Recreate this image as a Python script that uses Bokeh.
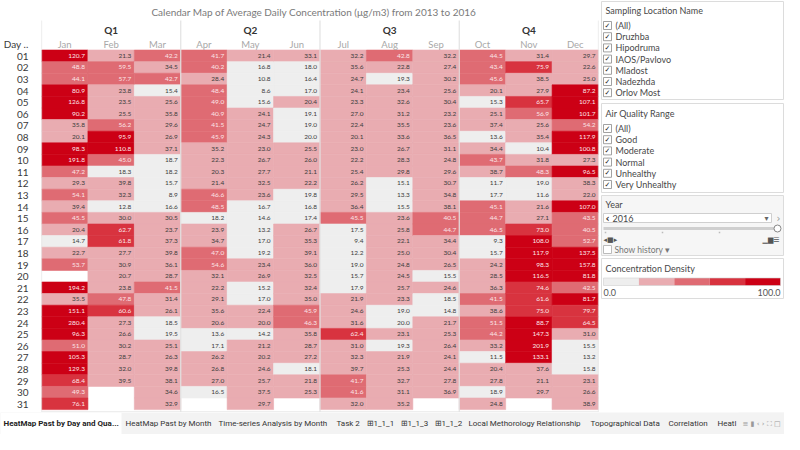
import pandas as pd
from bokeh.plotting import figure
from bokeh.models import ColumnDataSource, Range1d, FixedTicker
from bokeh.layouts import row, column
from bokeh.transform import dodge
from bokeh.embed import file_html
from bokeh.resources import INLINE
from bokeh.core.properties import value

FONT = "Lato"

# ---------------- data ----------------
title_text = "Calendar Map of Average Daily Concentration (\u03bcg/m3)  from 2013 to 2016"
quarters = ["Q1", "Q2", "Q3", "Q4"]
months = ["Jan", "Feb", "Mar", "Apr", "May", "Jun", "Jul", "Aug", "Sep", "Oct", "Nov", "Dec"]
days = list(range(1, 32))

jan = [120.7, 48.8, 44.1, 80.9, 126.8, 90.2, 35.8, 20.1, 98.3, 191.8, 47.2, 29.3, 54.1, 39.4, 45.5, 20.4,
       14.7, 22.7, 53.7, None, 194.2, 35.5, 151.1, 280.4, 96.3, 51.0, 105.3, 129.3, 68.4, 49.3, 76.1]
feb = [21.3, 59.5, 57.7, 23.8, 23.5, 25.5, 56.2, 95.9, 110.8, 45.0, 18.3, 39.8, 32.3, 12.8, 30.0, 62.7,
       61.8, 27.7, 30.9, 20.7, 23.8, 47.8, 60.6, 27.3, 26.6, 30.2, 28.7, 32.0, 39.5, None, None]
mar = [42.2, 34.5, 42.7, 15.4, 25.6, 35.8, 29.6, 26.9, 37.1, 18.7, 18.2, 15.7, 8.9, 16.6, 30.5, 23.7,
       37.3, 39.8, 36.1, 28.7, 41.5, 31.4, 26.1, 18.5, 19.5, 25.1, 26.3, 39.8, 38.1, 34.6, 32.9]
apr = [41.7, 40.2, 28.4, 48.4, 49.0, 40.9, 41.5, 45.9, 35.2, 22.3, 20.3, 21.4, 46.6, 48.5, 18.2, 23.9,
       34.7, 47.0, 54.6, 32.1, 22.2, 29.1, 35.6, 20.6, 13.6, 17.1, 26.2, 26.8, 27.0, 16.5, None]
may = [21.4, 16.8, 10.8, 8.6, 15.6, 24.1, 24.7, 24.3, 23.0, 26.7, 27.7, 32.5, 23.6, 16.7, 14.6, 13.2,
       17.0, 19.2, 23.4, 26.9, 15.2, 17.0, 22.4, 20.04, 14.2, 21.2, 20.2, 24.6, 25.7, 37.5, 29.7]
jun = [33.1, 18.0, 16.4, 17.0, 20.4, 19.1, 19.0, 19.96, 25.5, 26.0, 21.1, 22.2, 19.8, 16.8, 17.4, 26.7,
       35.3, 39.1, 36.0, 32.5, 32.4, 35.0, 45.9, 46.3, 35.8, 28.7, 27.2, 18.1, 21.8, 25.3, None]
jul = [32.2, 35.6, 24.7, 24.1, 23.3, 27.0, 22.4, 20.1, 23.0, 22.2, 25.4, 26.2, 29.5, 36.4, 45.5, 17.5,
       9.4, 12.2, 19.0, 15.7, 17.9, 21.9, 24.6, 31.6, 62.4, 31.0, 32.3, 39.7, 41.7, 41.6, 32.0]
aug = [42.8, 22.8, 19.3, 23.4, 32.6, 31.2, 35.5, 33.6, 26.7, 28.3, 29.8, 15.1, 13.3, 15.5, 23.6, 25.8,
       22.1, 25.0, 24.8, 24.5, 25.7, 23.3, 19.0, 19.96, 23.1, 19.3, 21.9, 25.3, 32.7, 31.1, 35.2]
sep = [32.2, 27.4, 30.2, 25.6, 30.4, 23.2, 23.6, 36.5, 31.1, 24.8, 29.6, 30.7, 34.8, 38.1, 40.5, 44.7,
       34.4, 30.4, 26.5, 15.5, 24.6, 18.5, 14.8, 21.7, 25.3, 26.4, 24.1, 24.4, 27.8, 36.9, None]
oct_ = [44.5, 43.4, 45.6, 20.1, 15.3, 25.1, 37.4, 13.6, 34.4, 43.7, 38.7, 11.7, 17.7, 45.1, 44.7, 46.5,
        9.3, 15.7, 24.2, 28.5, 36.3, 41.5, 38.6, 51.5, 44.2, 33.2, 11.5, 20.4, 27.8, 18.9, 24.8]
nov = [31.4, 75.9, 38.5, 27.9, 65.7, 56.9, 25.6, 35.4, 10.4, 31.8, 48.3, 19.0, 11.6, 21.6, 27.1, 73.0,
       108.0, 117.9, 98.3, 116.5, 74.6, 61.6, 75.0, 88.7, 147.3, 201.9, 133.1, 37.6, 21.1, 29.7, None]
dec = [29.7, 22.6, 25.0, 87.2, 107.1, 101.7, 54.2, 117.9, 100.8, 27.3, 96.5, 38.3, 22.0, 107.0, 43.5, 40.5,
       52.7, 137.5, 157.8, 81.8, 42.5, 81.7, 79.7, 64.5, 31.0, 15.5, 13.2, 15.8, 23.1, 26.6, 38.9]
month_values = [jan, feb, mar, apr, may, jun, jul, aug, sep, oct_, nov, dec]

bin_edges = [0, 20, 40, 60, 80]
bin_colors = ["#eeeeee", "#e9acb1", "#df6b73", "#d8333f", "#cc0015"]
text_colors = ["#3c3c3c", "#3c3c3c", "#fbe6e8", "#fbe6e8", "#fbe6e8"]
legend_title = "Concentration Density"
legend_min, legend_max = "0.0", "100.0"

location_title = "Sampling Location Name"
locations = ["(All)", "Druzhba", "Hipodruma", "IAOS/Pavlovo", "Mladost", "Nadezhda", "Orlov Most"]
aq_title = "Air Quality Range"
aq_ranges = ["(All)", "Good", "Moderate", "Normal", "Unhealthy", "Very Unhealthy"]
year_title = "Year"
year_value = "2016"

tabs = ["HeatMap Past by Day and Qua...", "HeatMap Past by Month", "Time-series Analysis by Month",
        "Task 2", "\u229e1_1_1", "\u229e1_1_3", "\u229e1_1_2", "Local Methorology Relationship",
        "Topographical Data", "Correlation", "Heatl"]
tab_x = [3, 125, 218, 336, 366, 400, 434, 468, 590, 668, 717]


def bin_index(v):
    idx = 0
    for i, e in enumerate(bin_edges):
        if v >= e:
            idx = i
    return idx


records = []
for mi, (m, vals) in enumerate(zip(months, month_values)):
    for d, v in zip(days, vals):
        if v is None:
            continue
        b = bin_index(v)
        records.append(dict(month=m, mx=mi + 1, day=d, val=v, label=f"{v:.1f}",
                            color=bin_colors[b], tcolor=text_colors[b]))
df = pd.DataFrame(records)
src = ColumnDataSource(df)

# ---------------- heatmap ----------------
p = figure(width=600, height=412, x_range=Range1d(0.5, 12.5), y_range=Range1d(31.75, -3.77),
           output_backend="svg", toolbar_location=None, x_axis_location=None,
           min_border_left=34, min_border_right=2, min_border_top=0, min_border_bottom=0)
p.grid.grid_line_color = None
p.outline_line_color = None
p.background_fill_color = "white"
p.border_fill_color = "white"

p.rect(x="mx", y="day", width=1, height=1, source=src, fill_color="color",
       line_color="color", line_width=0.6)
p.text(x=dodge("mx", 0.5), y="day", text="label", source=src, text_align="right",
       text_baseline="middle", x_offset=-3, text_font=value(FONT), text_font_size="6.5px",
       text_color="tcolor")

# quarter separators
qb = [0.5 + 3 * i for i in range(len(quarters) + 1)]
p.segment(x0=qb, x1=qb, y0=[-2.05] * len(qb), y1=[31.75] * len(qb), line_color="#e2e2e2", line_width=1.2)
p.segment(x0=[0.5], x1=[12.5], y0=[31.7], y1=[31.7], line_color="#e2e2e2", line_width=1)

# headers
p.text(x=[6.4], y=[-2.75], text=[title_text], text_align="center", text_baseline="middle",
       text_font=value(FONT), text_font_size="10px", text_color="#7a7a7a")
p.text(x=[2 + 3 * i for i in range(len(quarters))], y=[-1.22] * len(quarters), text=quarters,
       text_align="center", text_baseline="middle", text_font=value(FONT), text_font_size="10px",
       text_font_style="bold", text_color="#333333")
p.text(x=list(range(1, 13)), y=[0] * 12, text=months, text_align="center", text_baseline="middle",
       text_font=value(FONT), text_font_size="9.5px", text_color="#a8a8a8")

p.yaxis.ticker = FixedTicker(ticks=[0] + days)
overrides = {0: "Day .."}
overrides.update({d: f"{d:02d}" for d in days})
p.yaxis.major_label_overrides = overrides
p.yaxis.axis_line_color = None
p.yaxis.major_tick_line_color = None
p.yaxis.minor_tick_line_color = None
p.yaxis.major_label_text_font = FONT
p.yaxis.major_label_text_font_size = "10px"
p.yaxis.major_label_text_color = "#3a3a3a"
p.yaxis.major_label_standoff = 7

# ---------------- side panel ----------------
s = figure(width=184, height=412, x_range=Range1d(0, 184), y_range=Range1d(412, 0),
           output_backend="svg", toolbar_location=None, x_axis_location=None, y_axis_location=None,
           min_border=0)
s.grid.grid_line_color = None
s.outline_line_color = None
s.border_fill_color = "white"
s.background_fill_color = "white"

box_col = "#dcdcdc"
txt_col = "#484848"


def box(top, bottom, fill="white"):
    s.quad(left=[1], right=[183], top=[top], bottom=[bottom], fill_color=fill, line_color=box_col, line_width=1)


def checklist(items, y0, step):
    ys = [y0 + i * step for i in range(len(items))]
    s.rect(x=[7] * len(items), y=ys, width=8, height=8, fill_color="white", line_color="#8a8a8a", line_width=0.8)
    s.text(x=[7] * len(items), y=ys, text=["\u2713"] * len(items), text_align="center", text_baseline="middle",
           text_font=value("DejaVu Sans"), text_font_size="7px", text_color="#222222")
    s.text(x=[15] * len(items), y=ys, text=items, text_baseline="middle", text_font=value(FONT),
           text_font_size="9px", text_color=txt_col)


def panel_title(t, y):
    s.text(x=[5], y=[y], text=[t], text_baseline="middle", text_font=value(FONT),
           text_font_size="9px", text_color=txt_col)


box(1, 99)
panel_title(location_title, 10)
checklist(locations, 25, 11.2)

box(103, 192)
panel_title(aq_title, 113)
checklist(aq_ranges, 128, 11.2)

box(195, 255, fill="#f6f6f6")
panel_title(year_title, 204)
s.quad(left=[3], right=[171], top=[213], bottom=[222], fill_color="white", line_color="#cfcfcf")
s.text(x=[5], y=[217.5], text=["\u2039"], text_baseline="middle", text_font=value("DejaVu Sans"),
       text_font_size="10px", text_font_style="bold", text_color="#333333")
s.text(x=[12], y=[217.5], text=[year_value], text_baseline="middle", text_font=value(FONT),
       text_font_size="9px", text_color=txt_col)
s.text(x=[166], y=[217.5], text=["\u25be"], text_align="center", text_baseline="middle",
       text_font=value("DejaVu Sans"), text_font_size="8px", text_color="#666666")
s.text(x=[178], y=[217.5], text=["\u203a"], text_align="center", text_baseline="middle",
       text_font=value("DejaVu Sans"), text_font_size="10px", text_color="#999999")
s.segment(x0=[3], x1=[174], y0=[228], y1=[228], line_color="#cfcfcf", line_width=3)
s.scatter(x=[177], y=[228], size=7, marker="circle", fill_color="white", line_color="#888888")
s.scatter(x=[5, 62, 119], y=[232, 232, 232], size=1.5, marker="square", fill_color="#bbbbbb", line_color=None)
s.text(x=[3], y=[239], text=["\u25c2\u25a0\u25b8"], text_baseline="middle", text_font=value("DejaVu Sans"),
       text_font_size="7px", text_color="#555555")
s.text(x=[162], y=[239], text=["\u2581\u2586\u2630"], text_baseline="middle", text_font=value("DejaVu Sans"),
       text_font_size="7px", text_color="#555555")
s.rect(x=[7], y=[249], width=8, height=8, fill_color="white", line_color="#bbbbbb")
s.text(x=[14], y=[249], text=["Show history \u25be"], text_baseline="middle", text_font=value(FONT),
       text_font_size="8.5px", text_color="#777777")

box(258, 298)
panel_title(legend_title, 268)
n = len(bin_colors)
bar_l, bar_r = 3, 180
w = (bar_r - bar_l) / n
s.quad(left=[bar_l + i * w for i in range(n)], right=[bar_l + (i + 1) * w for i in range(n)],
       top=[277.5] * n, bottom=[285] * n, fill_color=bin_colors, line_color=None)
s.quad(left=[bar_l], right=[bar_r], top=[277.5], bottom=[285], fill_color=None, line_color="#d0d0d0", line_width=0.6)
s.text(x=[bar_l], y=[292], text=[legend_min], text_baseline="middle", text_font=value(FONT),
       text_font_size="9px", text_color="#555555")
s.text(x=[bar_r], y=[292], text=[legend_max], text_align="right", text_baseline="middle",
       text_font=value(FONT), text_font_size="9px", text_color="#555555")

# ---------------- tabs ----------------
t = figure(width=784, height=22, x_range=Range1d(0, 784), y_range=Range1d(22, 0),
           output_backend="svg", toolbar_location=None, x_axis_location=None, y_axis_location=None,
           min_border=0)
t.grid.grid_line_color = None
t.outline_line_color = None
t.background_fill_color = "#f3f3f3"
t.border_fill_color = "#f3f3f3"
t.quad(left=[0], right=[tab_x[1] - 4], top=[0], bottom=[22], fill_color="white", line_color=None)
t.text(x=[tab_x[0]], y=[11], text=[tabs[0]], text_baseline="middle", text_font=value("Roboto"),
       text_font_size="8px", text_font_style="bold", text_color="#222222")
t.text(x=tab_x[1:], y=[11] * (len(tabs) - 1), text=tabs[1:], text_baseline="middle",
       text_font=value("Roboto"), text_font_size="8px", text_color="#333333")
t.quad(left=[738], right=[784], top=[0], bottom=[22], fill_color="#f3f3f3", line_color=None)
t.text(x=[742], y=[11], text=["\u2261 \u25ae \u2039 \u203a \u26f6 \u25a1"], text_baseline="middle",
       text_font=value("DejaVu Sans"), text_font_size="7px", text_color="#999999")

layout = column(row(p, s), t)
open("out.html", "w").write(file_html(layout, INLINE))
